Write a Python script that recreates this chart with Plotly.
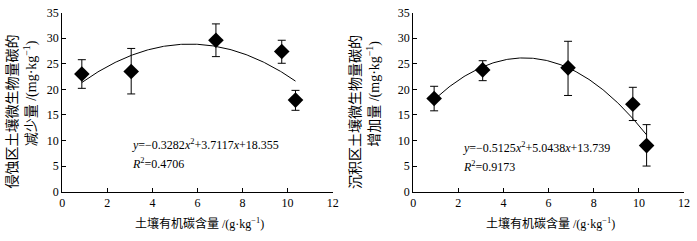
import numpy as np
import plotly.graph_objects as go

# Left panel: erosion area - decrease of soil microbial biomass carbon
soc_left = [0.87, 3.06, 6.82, 9.74, 10.35]
mbc_left = [23.0, 23.5, 29.6, 27.4, 17.9]
err_up_left = [2.8, 4.5, 3.2, 2.2, 1.9]
err_dn_left = [2.8, 4.4, 3.2, 2.3, 2.0]
coef_left = [-0.3282, 3.7117, 18.355]

# Right panel: deposition area - increase of soil microbial biomass carbon
soc_right = [0.93, 3.08, 6.86, 9.73, 10.34]
mbc_right = [18.2, 23.8, 24.2, 17.1, 9.0]
err_up_right = [2.4, 1.8, 5.2, 3.3, 4.1]
err_dn_right = [2.4, 2.1, 5.4, 3.2, 4.0]
coef_right = [-0.5125, 5.0438, 13.739]

xticks = [0, 2, 4, 6, 8, 10, 12]
yticks = [0, 5, 10, 15, 20, 25, 30, 35]

W, H = 697, 241
SERIF = "Liberation Serif, Times New Roman, Noto Sans CJK SC, serif"

fig = go.Figure()


def add_panel(xs, ys, eu, ed, coef, xa, ya):
    xr = np.linspace(min(xs), max(xs), 200)
    yr = coef[0] * xr ** 2 + coef[1] * xr + coef[2]
    fig.add_trace(go.Scatter(x=xr, y=yr, mode="lines",
                             line=dict(color="black", width=1),
                             xaxis=xa, yaxis=ya, showlegend=False, hoverinfo="skip"))
    fig.add_trace(go.Scatter(x=xs, y=ys, mode="markers",
                             marker=dict(symbol="diamond", size=12, color="black"),
                             error_y=dict(type="data", symmetric=False, array=eu, arrayminus=ed,
                                          color="black", thickness=1, width=4),
                             xaxis=xa, yaxis=ya, showlegend=False))


add_panel(soc_left, mbc_left, err_up_left, err_dn_left, coef_left, "x", "y")
add_panel(soc_right, mbc_right, err_up_right, err_dn_right, coef_right, "x2", "y2")

ydom = [45 / H, 235 / H]
axis_common = dict(showline=True, linecolor="black", linewidth=1, ticks="inside",
                   ticklen=4, tickcolor="black", showgrid=False, zeroline=False,
                   ticklabeloverflow="allow",
                   tickfont=dict(family=SERIF, size=12, color="black"))

fig.update_layout(
    width=W, height=H, margin=dict(l=0, r=0, t=0, b=0),
    paper_bgcolor="white", plot_bgcolor="white",
    xaxis=dict(domain=[60 / W, 334 / W], range=[0, 12], tickvals=xticks, anchor="y", **axis_common),
    yaxis=dict(domain=ydom, range=[0, 35], tickvals=yticks, anchor="x", **axis_common),
    xaxis2=dict(domain=[415.5 / W, 690 / W], range=[0, 12], tickvals=xticks, anchor="y2", **axis_common),
    yaxis2=dict(domain=ydom, range=[0, 35], tickvals=yticks, anchor="x2", **axis_common),
)

ann = []
# equations
ann.append(dict(x=3.0, y=9.3, xref="x", yref="y", xanchor="left", yanchor="middle", showarrow=False,
                text="<i>y</i>=−0.3282<i>x</i><sup>2</sup>+3.7117<i>x</i>+18.355",
                font=dict(family=SERIF, size=12, color="black")))
ann.append(dict(x=3.0, y=5.5, xref="x", yref="y", xanchor="left", yanchor="middle", showarrow=False,
                text="<i>R</i><sup>2</sup>=0.4706", font=dict(family=SERIF, size=12, color="black")))
ann.append(dict(x=2.1, y=8.7, xref="x2", yref="y2", xanchor="left", yanchor="middle", showarrow=False,
                text="<i>y</i>=−0.5125<i>x</i><sup>2</sup>+5.0438<i>x</i>+13.739",
                font=dict(family=SERIF, size=12, color="black")))
ann.append(dict(x=2.1, y=4.9, xref="x2", yref="y2", xanchor="left", yanchor="middle", showarrow=False,
                text="<i>R</i><sup>2</sup>=0.9173", font=dict(family=SERIF, size=12, color="black")))

# x titles
xt = "土壤有机碳含量 /(g·kg<sup>−1</sup>)"
ann.append(dict(x=199 / W, y=1 - 230 / H, xref="paper", yref="paper", showarrow=False,
                xanchor="center", yanchor="middle", text=xt, font=dict(family=SERIF, size=12, color="black")))
ann.append(dict(x=555 / W, y=1 - 230 / H, xref="paper", yref="paper", showarrow=False,
                xanchor="center", yanchor="middle", text=xt, font=dict(family=SERIF, size=12, color="black")))

# y titles (two rotated lines each)
def ytitle(x_px, y_px, text):
    ann.append(dict(x=x_px / W, y=1 - y_px / H, xref="paper", yref="paper", showarrow=False,
                    xanchor="center", yanchor="middle", textangle=-90, text=text,
                    font=dict(family=SERIF, size=14, color="black")))

ytitle(9, 111, "侵蚀区土壤微生物量碳的")
ytitle(28, 92, "减少量 /(mg·kg<sup>−1</sup>)")
ytitle(356, 111, "沉积区土壤微生物量碳的")
ytitle(376, 92, "增加量 /(mg·kg<sup>−1</sup>)")

fig.update_layout(annotations=ann)
fig.write_html("out.html", config={"displayModeBar": False},
               post_script="document.body.style.margin='0';document.body.style.overflow='hidden';")
